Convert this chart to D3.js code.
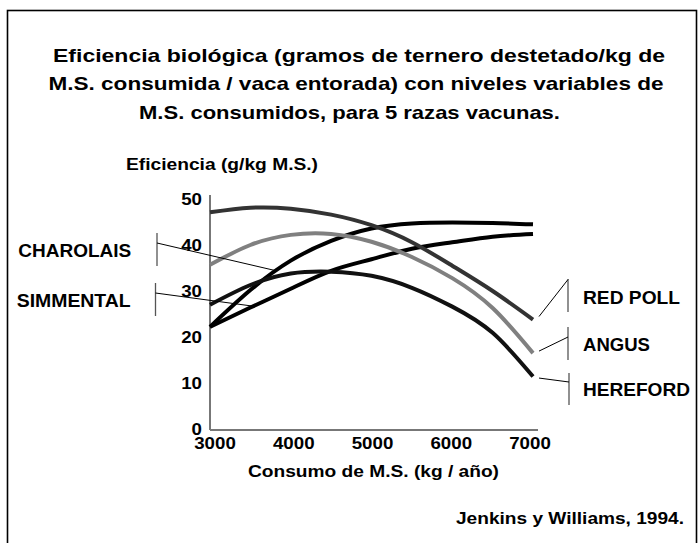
<!DOCTYPE html>
<html>
<head>
<meta charset="utf-8">
<script src="https://cdn.jsdelivr.net/npm/d3@7"></script>
<style>
  html, body { margin: 0; padding: 0; background: #fff; }
  svg { display: block; }
  text { font-family: "Liberation Sans", Arial, Helvetica, sans-serif; font-weight: bold; fill: #000; }
</style>
</head>
<body>
<svg id="chart" width="698" height="543"></svg>
<script>
// ---------------- DATA ----------------
const titleLines = [
  "Eficiencia biológica (gramos de ternero destetado/kg de",
  "M.S. consumida / vaca entorada) con niveles variables de",
  "M.S. consumidos, para 5 razas vacunas."
];
const yTitle = "Eficiencia (g/kg M.S.)";
const xTitle = "Consumo de M.S. (kg / año)";
const sourceText = "Jenkins y Williams, 1994.";

const consumo = [3000, 3500, 4000, 4500, 5000, 5500, 6000, 6500, 7000];
const redPoll   = [47.1, 48.1, 47.9, 46.6, 44.3, 40.6, 35.5, 30.0, 23.8];
const angus     = [35.7, 40.0, 42.2, 42.4, 40.7, 37.4, 32.8, 26.3, 16.5];
const hereford  = [27.0, 31.3, 33.8, 34.2, 33.3, 30.7, 26.6, 20.9, 11.4];
const charolais = [22.2, 30.2, 36.6, 40.9, 43.6, 44.7, 44.9, 44.8, 44.5];
const simmental = [22.2, 26.4, 30.5, 34.4, 36.9, 39.2, 40.6, 41.8, 42.4];

const breedNames = ["RED POLL", "ANGUS", "HEREFORD", "CHAROLAIS", "SIMMENTAL"];
const breedColors = ["#333333", "#808080", "#111111", "#000000", "#000000"];

const xTicks = [3000, 4000, 5000, 6000, 7000];
const yTicks = [0, 10, 20, 30, 40, 50];

// ---------------- LAYOUT ----------------
const svg = d3.select("#chart");
const STRETCH = 1.1;

svg.append("rect")
  .attr("x", 7.5).attr("y", 10.5).attr("width", 689).attr("height", 545)
  .attr("fill", "none").attr("stroke", "#000").attr("stroke-width", 1.6);

const x = d3.scaleLinear().domain([3000, 7000]).range([210, 533]);
const xLab = d3.scaleLinear().domain([3000, 7000]).range([214.5, 529.5]);
const y = d3.scaleLinear().domain([0, 50]).range([429, 199]);

// title
const titleX = [53, 48.5, 139];
const titleW = [612, 615, 421];
const titleY = [62, 90, 119];
svg.append("g").selectAll("text").data(titleLines).join("text")
  .attr("x", (d, i) => titleX[i]).attr("y", (d, i) => titleY[i])
  .attr("font-size", 19)
  .attr("textLength", (d, i) => titleW[i]).attr("lengthAdjust", "spacingAndGlyphs")
  .text(d => d);

svg.append("text").attr("x", 126).attr("y", 170).attr("font-size", 16)
  .attr("textLength", 192).attr("lengthAdjust", "spacingAndGlyphs").text(yTitle);
svg.append("text").attr("x", 248).attr("y", 477).attr("font-size", 16)
  .attr("textLength", 251).attr("lengthAdjust", "spacingAndGlyphs").text(xTitle);
svg.append("text").attr("x", 456).attr("y", 524).attr("font-size", 17)
  .attr("textLength", 228).attr("lengthAdjust", "spacingAndGlyphs").text(sourceText);

// y axis
const yAxis = svg.append("g").attr("transform", "translate(210,0)")
  .call(d3.axisLeft(y).tickValues(yTicks).tickSize(0).tickPadding(8).tickFormat(d3.format("d")));
yAxis.select(".domain").remove();
yAxis.selectAll("text").attr("font-size", 17).style("font-family", "'Liberation Sans', Arial, sans-serif")
  .style("font-weight", "bold").attr("fill", "#000");

// x axis labels
const xAxis = svg.append("g").attr("transform", "translate(0,430)")
  .call(d3.axisBottom(xLab).tickValues(xTicks).tickSize(0).tickPadding(6.5).tickFormat(d3.format("d")));
xAxis.select(".domain").remove();
xAxis.selectAll("text").attr("font-size", 17).style("font-family", "'Liberation Sans', Arial, sans-serif")
  .style("font-weight", "bold").attr("fill", "#000");

svg.selectAll(".tick text").each(function () {
  const w = this.getComputedTextLength();
  d3.select(this).attr("textLength", w * STRETCH).attr("lengthAdjust", "spacingAndGlyphs");
});

// axis lines
svg.append("line").attr("x1", x(3000)).attr("x2", x(3000)).attr("y1", y(50) - 4).attr("y2", y(0) + 1)
  .attr("stroke", "#777").attr("stroke-width", 2);
svg.append("line").attr("x1", x(3000)).attr("x2", x(7000) + 5).attr("y1", y(0) + 1).attr("y2", y(0) + 1)
  .attr("stroke", "#777").attr("stroke-width", 2.2);

// curves
const series = [redPoll, angus, hereford, charolais, simmental];
const line = d3.line().x((d, i) => x(consumo[i])).y(d => y(d)).curve(d3.curveNatural);
const drawOrder = [4, 3, 2, 1, 0];
svg.append("g").selectAll("path").data(drawOrder).join("path")
  .attr("d", k => line(series[k]))
  .attr("fill", "none")
  .attr("stroke", k => breedColors[k])
  .attr("stroke-width", 4);

// helper: value on series at consumo v (linear)
function valAt(s, v) {
  const f = d3.scaleLinear().domain(consumo).range(s);
  return f(v);
}

// annotations
const leftLabels = [
  { k: 3, target: 3826, bx: 157, by1: 233, by2: 266, py: 243, tx: 18.3, ty: 257, tw: 113 },
  { k: 4, target: 3536, bx: 155.5, by1: 283, by2: 316, py: 293, tx: 16.7, ty: 307, tw: 114 }
];
const rightLabels = [
  { k: 0, bx: 568, by1: 279, by2: 312, py: 279.5, dy: -3, tx: 583, ty: 304, tw: 97 },
  { k: 1, bx: 568, by1: 327, by2: 360, py: 337, dy: -2, tx: 583, ty: 351, tw: 67 },
  { k: 2, bx: 569, by1: 373, by2: 405, py: 382, dy: 1.5, tx: 583, ty: 395.5, tw: 107 }
];

const ann = svg.append("g");
leftLabels.forEach(a => {
  ann.append("line").attr("x1", a.bx).attr("x2", a.bx).attr("y1", a.by1).attr("y2", a.by2)
    .attr("stroke", "#555").attr("stroke-width", 1.3);
  ann.append("line").attr("x1", a.bx).attr("y1", a.py)
    .attr("x2", x(a.target)).attr("y2", y(valAt(series[a.k], a.target)))
    .attr("stroke", "#000").attr("stroke-width", 1);
  ann.append("text").attr("x", a.tx).attr("y", a.ty).attr("font-size", 18)
    .attr("textLength", a.tw).attr("lengthAdjust", "spacingAndGlyphs").text(breedNames[a.k]);
});
rightLabels.forEach(a => {
  const s = series[a.k];
  ann.append("line").attr("x1", a.bx).attr("x2", a.bx).attr("y1", a.by1).attr("y2", a.by2)
    .attr("stroke", "#555").attr("stroke-width", 1.3);
  ann.append("line").attr("x1", a.bx).attr("y1", a.py)
    .attr("x2", x(consumo[consumo.length - 1]) + 6).attr("y2", y(s[s.length - 1]) + a.dy)
    .attr("stroke", "#000").attr("stroke-width", 1);
  ann.append("text").attr("x", a.tx).attr("y", a.ty).attr("font-size", 18)
    .attr("textLength", a.tw).attr("lengthAdjust", "spacingAndGlyphs").text(breedNames[a.k]);
});
</script>
</body>
</html>
